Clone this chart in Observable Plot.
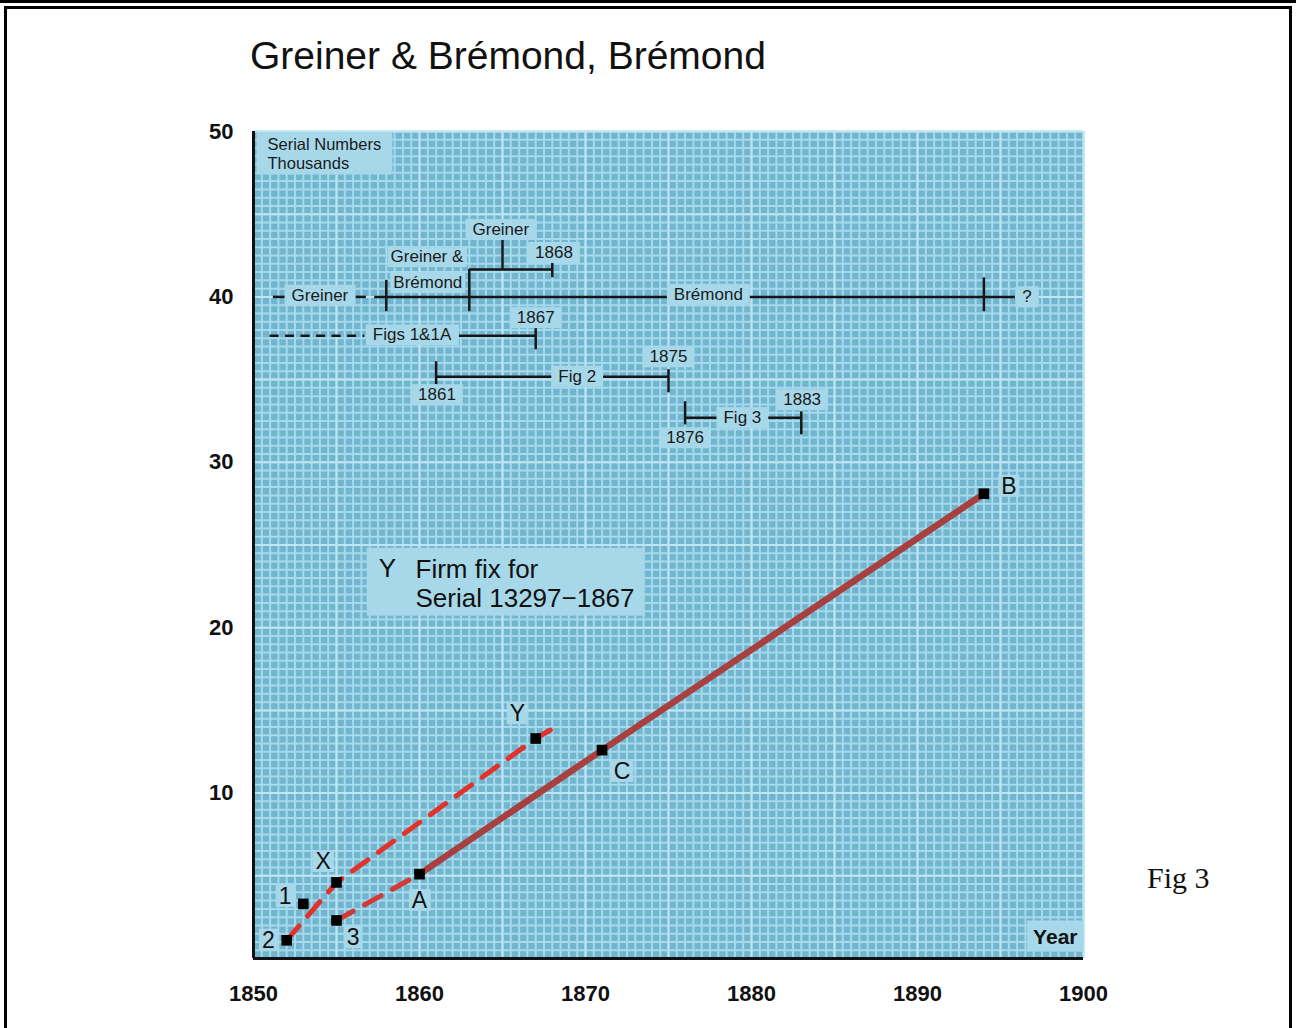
<!DOCTYPE html>
<html><head><meta charset="utf-8">
<script src="https://cdn.jsdelivr.net/npm/d3@7"></script>
<script src="https://cdn.jsdelivr.net/npm/@observablehq/plot@0.6"></script>
<style>
body{margin:0;background:#fff;}
#page{position:relative;width:1296px;height:1028px;overflow:hidden;background:#fff;font-family:"Liberation Sans",Arial,sans-serif;}
#topbar{position:absolute;left:0;top:0;width:1296px;height:3px;background:#000;}
#frame{position:absolute;left:4px;top:6px;width:1288px;height:1040px;border:3px solid #000;box-sizing:border-box;}
#title{position:absolute;left:250px;top:34px;font-size:39px;line-height:normal;color:#111;white-space:nowrap;}
#fig{position:absolute;left:1147px;top:861px;font-family:"Liberation Serif","Times New Roman",serif;font-size:30px;line-height:normal;color:#111;white-space:nowrap;}
#chart{position:absolute;left:0;top:0;}
</style></head><body>
<div id="page">
  <div id="topbar"></div><div id="frame"></div>
  <div id="title">Greiner &amp; Brémond, Brémond</div>
  <div id="chart"></div>
  <div id="fig">Fig 3</div>
</div>
<script>
// ---- axis ticks ----
const xTicks = [1850, 1860, 1870, 1880, 1890, 1900];
const yTicks = [10, 20, 30, 40, 50];

// ---- data points (year, serial in thousands) ----
const pointNames   = ["2", "1", "X", "3", "A", "Y", "C", "B"];
const pointYears   = [1852, 1853, 1855, 1855, 1860, 1867, 1871, 1894];
const pointSerials = [1.1, 3.3, 4.6, 2.3, 5.1, 13.3, 12.6, 28.1];
const labelYears   = [1850.9, 1851.9, 1854.2, 1856.0, 1860.0, 1865.9, 1872.2, 1895.5];
const labelSerials = [1.1, 3.75, 5.85, 1.25, 3.5, 14.8, 11.3, 28.55];

// ---- trend lines ----
const upperDashedYears   = [1852, 1855, 1867, 1868.2];
const upperDashedSerials = [1.1, 4.6, 13.3, 14.0];
const lowerDashedYears   = [1855, 1860];
const lowerDashedSerials = [2.3, 5.1];
const solidYears   = [1860, 1871, 1894];
const solidSerials = [5.1, 12.6, 28.1];

// ---- timeline annotation segments ----
const hSegStart  = [1851.2, 1856.0, 1857.3, 1863, 1862.3, 1861, 1876];
const hSegEnd    = [1851.95, 1856.8, 1895.9, 1868, 1867, 1875, 1883];
const hSegSerial = [40, 40, 40, 41.65, 37.65, 35.17, 32.69];
const dashSegStart  = [1851.0];
const dashSegEnd    = [1856.7];
const dashSegSerial = [37.65];
const vSegYear = [1858, 1863, 1894, 1865, 1868, 1867, 1861, 1875, 1876, 1883];
const vSegLow  = [39.1, 39.1, 39.1, 41.65, 41.16, 36.8, 34.69, 34.2, 32.26, 31.66];
const vSegHigh = [41.0, 41.65, 41.15, 43.46, 42.07, 38.26, 36.08, 35.6, 33.66, 33.05];

const annTexts   = ["Greiner", "1868", "Greiner", "Brémond", "?", "Figs 1&1A", "1867", "Fig 2", "1875", "1861", "Fig 3", "1883", "1876"];
const annYears   = [1864.9, 1868.1, 1854.0, 1877.4, 1896.6, 1859.55, 1867.0, 1869.5, 1875.0, 1861.05, 1879.45, 1883.05, 1876.0];
const annSerials = [44.07, 42.68, 40.1, 40.15, 40.0, 37.7, 38.74, 35.2, 36.38, 34.08, 32.7, 33.78, 31.48];
const stackTexts   = ["Greiner &", "Brémond"];
const stackYears   = [1860.45, 1860.5];
const stackSerials = [42.43, 40.86];

// ---- note ----
const noteMarker = "Y";
const noteLines = "Firm fix for\nSerial 13297−1867";
const noteBoxYears = [1856.85, 1873.6];
const noteBoxSerials = [20.7, 24.8];
const noteMarkerPos = [1857.55, 23.58];
const noteTextPos = [1859.76, 22.70];

const yLabelText = "Serial Numbers\nThousands";
const xLabelText = "Year";

// ---- grid ----
const gridYears = d3.range(1850, 1900.001, 0.5);
const gridSerials = d3.range(0, 50.001, 0.5);
const majorYears = d3.range(1850, 1900.001, 5);
const majorSerials = d3.range(0, 50.001, 5);

const idx = a => a.map((_, i) => i);
const BOX = "#a7d8ea";
const INK = "#161616";

const chart = Plot.plot({
  width: 1296, height: 1028,
  marginLeft: 253, marginRight: 213, marginTop: 131, marginBottom: 70,
  style: {background: "transparent", fontFamily: "'Liberation Sans', Arial, sans-serif"},
  x: {domain: [1850, 1900], ticks: xTicks, tickSize: 0, tickPadding: 27, tickFormat: d => String(d), label: null},
  y: {domain: [0, 50], ticks: yTicks, tickSize: 0, tickPadding: 20, tickFormat: d => String(d), label: null},
  marks: [
    Plot.frame({fill: "#72b5cf", stroke: null}),
    Plot.ruleX(gridYears, {stroke: "#a6d9eb", strokeWidth: 2}),
    Plot.ruleY(gridSerials, {stroke: "#a6d9eb", strokeWidth: 2}),
    Plot.ruleX(majorYears, {stroke: "#bde5f3", strokeWidth: 2}),
    Plot.ruleY(majorSerials, {stroke: "#bde5f3", strokeWidth: 2}),
    Plot.ruleX([1850], {stroke: "#111", strokeWidth: 3}),
    Plot.ruleY([0], {stroke: "#111", strokeWidth: 3}),
    // timeline
    Plot.ruleY(idx(hSegStart), {x1: i => hSegStart[i], x2: i => hSegEnd[i], y: i => hSegSerial[i], stroke: INK, strokeWidth: 2.5}),
    Plot.ruleY(idx(dashSegStart), {x1: i => dashSegStart[i], x2: i => dashSegEnd[i], y: i => dashSegSerial[i], stroke: INK, strokeWidth: 2.5, strokeDasharray: "9,6.5"}),
    Plot.ruleX(idx(vSegYear), {x: i => vSegYear[i], y1: i => vSegLow[i], y2: i => vSegHigh[i], stroke: INK, strokeWidth: 2.5}),
    Plot.text(idx(annTexts), {x: i => annYears[i], y: i => annSerials[i], text: i => annTexts[i], fontSize: 17, fill: "#1a1a1a", ariaDescription: "ann"}),
    Plot.text(idx(stackTexts), {x: i => stackYears[i], y: i => stackSerials[i], text: i => stackTexts[i], fontSize: 17, fill: "#1a1a1a", ariaDescription: "stack"}),
    // corner labels
    Plot.text([yLabelText], {frameAnchor: "top-left", dx: 14, dy: 6, textAnchor: "start", lineAnchor: "top", lineHeight: 1.1, fontSize: 16.5, fill: "#1a1a1a", ariaDescription: "corner"}),
    Plot.text([xLabelText], {frameAnchor: "bottom-right", dx: -6, dy: -15, textAnchor: "end", fontSize: 21, fontWeight: "bold", fill: "#111", ariaDescription: "year"}),
    // note
    Plot.rect([0], {x1: () => noteBoxYears[0], x2: () => noteBoxYears[1], y1: () => noteBoxSerials[0], y2: () => noteBoxSerials[1], fill: BOX}),
    Plot.text([noteMarker], {x: () => noteMarkerPos[0], y: () => noteMarkerPos[1], textAnchor: "start", fontSize: 26, fill: "#111"}),
    Plot.text([noteLines], {x: () => noteTextPos[0], y: () => noteTextPos[1], textAnchor: "start", fontSize: 26, lineHeight: 1.12, fill: "#111"}),
    // lines
    Plot.line(idx(upperDashedYears), {x: i => upperDashedYears[i], y: i => upperDashedSerials[i], stroke: "#e2322c", strokeWidth: 5, strokeDasharray: "19,13", strokeLinecap: "round"}),
    Plot.line(idx(lowerDashedYears), {x: i => lowerDashedYears[i], y: i => lowerDashedSerials[i], stroke: "#d33a35", strokeWidth: 5, strokeDasharray: "19,13", strokeLinecap: "round"}),
    Plot.line(idx(solidYears), {x: i => solidYears[i], y: i => solidSerials[i], stroke: "#a8403f", strokeWidth: 6.5, strokeLinecap: "round"}),
    Plot.dot(idx(pointYears), {x: i => pointYears[i], y: i => pointSerials[i], symbol: "square", r: 6, fill: "#000", stroke: null}),
    Plot.text(idx(pointNames), {x: i => labelYears[i], y: i => labelSerials[i], text: i => pointNames[i], fontSize: 23, fill: "#111", ariaDescription: "pt"})
  ]
});
document.getElementById("chart").appendChild(chart);

// axis tick label styling
chart.querySelectorAll('[aria-label^="x-axis"] text, [aria-label^="y-axis"] text').forEach(t => {
  t.style.fontSize = "22px";
  t.style.fontWeight = "bold";
  t.style.fill = "#111";
});

function boxify(desc, padX, padY, fill) {
  chart.querySelectorAll(`g[aria-description="${desc}"] text`).forEach(t => {
    const b = t.getBBox();
    const r = document.createElementNS("http://www.w3.org/2000/svg", "rect");
    r.setAttribute("x", b.x - padX);
    r.setAttribute("y", b.y - padY);
    r.setAttribute("width", b.width + 2 * padX);
    r.setAttribute("height", b.height + 2 * padY);
    const tr = t.getAttribute("transform");
    if (tr) r.setAttribute("transform", tr);
    r.setAttribute("fill", fill);
    t.parentNode.insertBefore(r, t);
  });
}
boxify("ann", 7, 1, BOX);
boxify("stack", 3, 1, BOX);
boxify("pt", 3, -2, BOX);
boxify("corner", 11, 3, BOX);
boxify("year", 6, 4, BOX);
</script>
</body></html>
